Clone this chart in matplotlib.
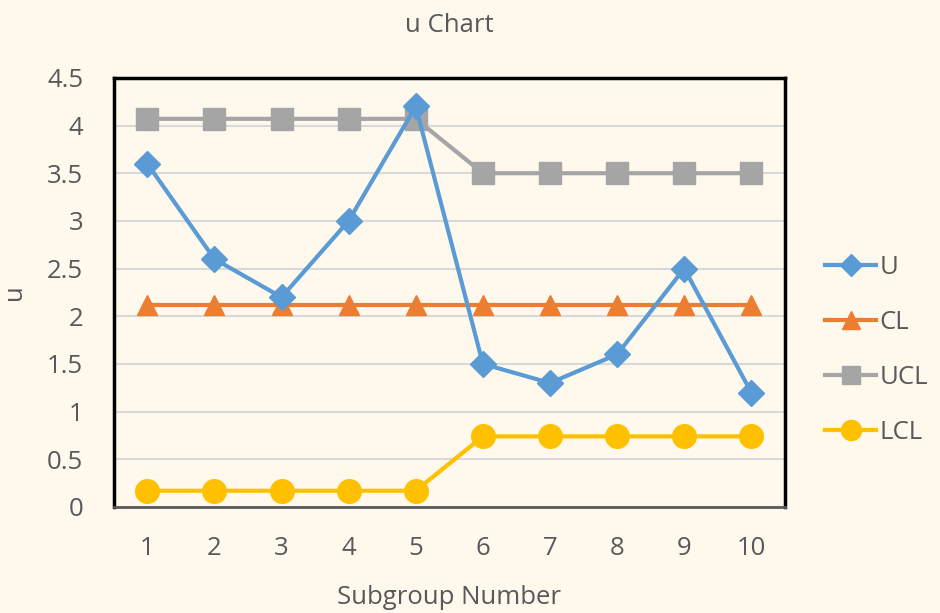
import matplotlib
matplotlib.use("Agg")
import matplotlib.pyplot as plt

subgroups = [1, 2, 3, 4, 5, 6, 7, 8, 9, 10]
u_vals = [3.6, 2.6, 2.2, 3.0, 4.2, 1.5, 1.3, 1.6, 2.5, 1.2]
cl_vals = [2.12] * 10
ucl_vals = [4.07, 4.07, 4.07, 4.07, 4.07, 3.5, 3.5, 3.5, 3.5, 3.5]
lcl_vals = [0.17, 0.17, 0.17, 0.17, 0.17, 0.74, 0.74, 0.74, 0.74, 0.74]
yticks = [0, 0.5, 1, 1.5, 2, 2.5, 3, 3.5, 4, 4.5]
ytick_labels = ["0", "0.5", "1", "1.5", "2", "2.5", "3", "3.5", "4", "4.5"]

bg = "#FEF9EC"
txt = "#595959"
plt.rcParams['font.family'] = ['Open Sans', 'DejaVu Sans']
fs = 18.5

fig = plt.figure(figsize=(9.4, 6.13), dpi=100, facecolor=bg)
ax = fig.add_axes([0.121, 0.173, 0.714, 0.700], facecolor=bg)

ax.plot(subgroups, u_vals, color="#5B9BD5", lw=3, marker="D", ms=13, label="U", zorder=5)
ax.plot(subgroups, cl_vals, color="#ED7D31", lw=3, marker="^", ms=15, label="CL", zorder=3)
ax.plot(subgroups, ucl_vals, color="#A5A5A5", lw=3, marker="s", ms=16, label="UCL", zorder=4)
ax.plot(subgroups, lcl_vals, color="#FFC000", lw=3, marker="o", ms=17, label="LCL", zorder=3)

ax.set_xlim(0.5, 10.5)
ax.set_ylim(0, 4.5)
ax.set_yticks(yticks)
ax.set_yticklabels(ytick_labels)
ax.set_xticks(subgroups)
ax.set_xticklabels([str(s) for s in subgroups])
ax.grid(axis="y", color="#D9D9D9", lw=1.5)
ax.set_axisbelow(True)
ax.tick_params(length=0, labelsize=fs, colors=txt)
ax.tick_params(axis="y", pad=22)
ax.tick_params(axis="x", pad=21)
for s in ["left", "top", "right"]:
    ax.spines[s].set_color("black")
    ax.spines[s].set_linewidth(2.5)
ax.spines["bottom"].set_color("#595959")
ax.spines["bottom"].set_linewidth(2)

ax.set_title("u Chart", fontsize=fs, color=txt, pad=33)
ax.set_xlabel("Subgroup Number", fontsize=fs, color=txt, labelpad=17)
ax.set_ylabel("u", fontsize=fs, color=txt, labelpad=14)

leg = fig.legend(loc="upper left", bbox_to_anchor=(0.853, 0.622), frameon=False,
                 fontsize=fs, labelcolor=txt, handlelength=2.0, handletextpad=0.12,
                 labelspacing=1.17, markerscale=0.85)

fig.savefig("out.png", dpi=100, facecolor=bg)
